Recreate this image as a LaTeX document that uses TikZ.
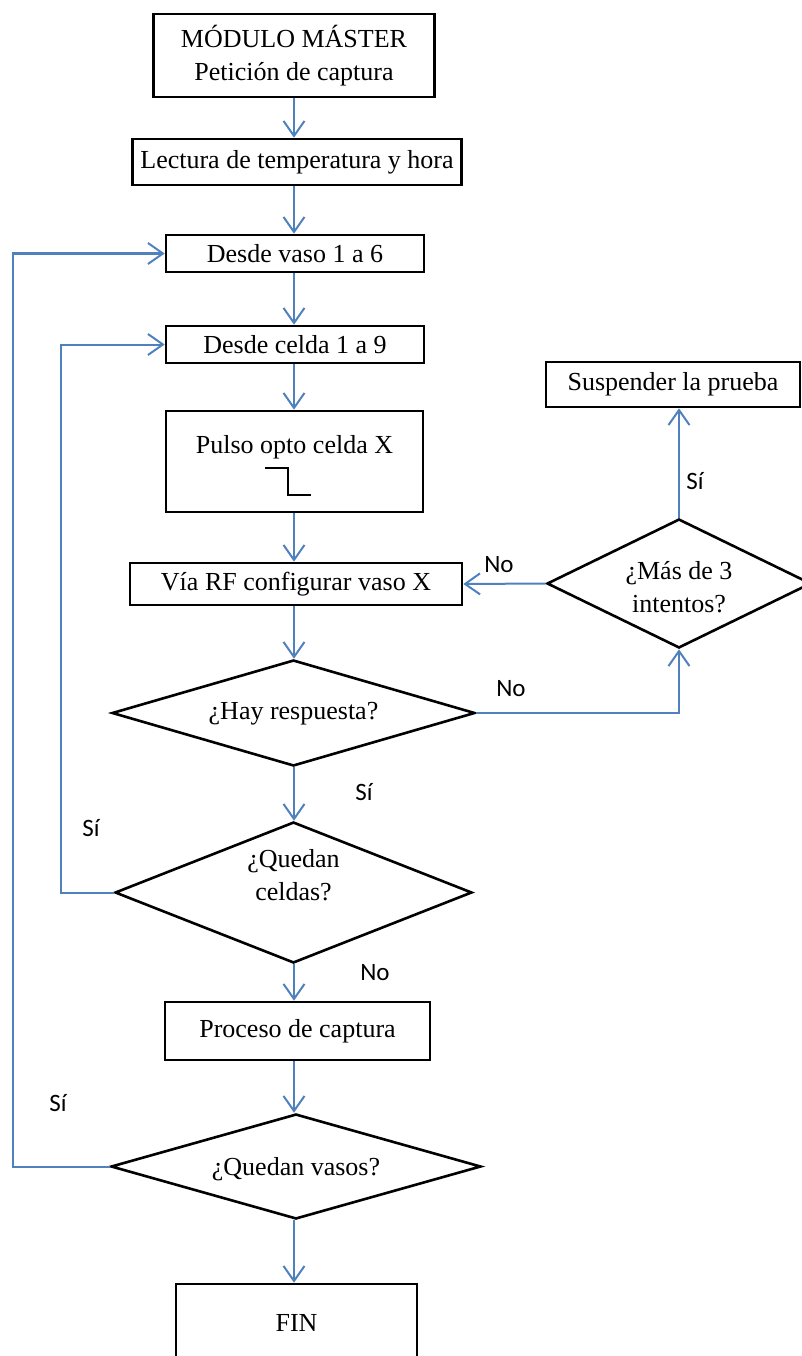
\documentclass[tikz,border=0pt]{standalone}
\usepackage{fontspec}
\setmainfont{Liberation Serif}
\newfontfamily\answerfont{Carlito}
\usetikzlibrary{arrows.meta,shapes.geometric}
\definecolor{flowblue}{HTML}{4F81BD}
\begin{document}
\begin{tikzpicture}[x=1pt,y=-1pt,
  stepbox/.style={draw=black,line width=2.6pt,inner sep=0pt,align=center,
    font=\fontsize{26}{33}\selectfont},
  decision/.style={diamond,draw=black,line width=2.6pt,inner sep=0pt},
  txt/.style={inner sep=0pt,align=center,font=\fontsize{26}{33}\selectfont},
  answer/.style={inner sep=0pt,font=\answerfont\fontsize{25}{28}\selectfont},
  flow/.style={draw=flowblue,line width=2pt,-{Straight Barb[length=15pt,width=21pt]}}]
\useasboundingbox (0,0) rectangle (801,1356);

% main column
\node[stepbox,minimum width=281,minimum height=83] (master) at (294,55.5)
  {MÓDULO MÁSTER\\Petición de captura};
\node[stepbox,minimum width=329,minimum height=46] (lectura) at (297,162)
  {Lectura de temperatura y hora};
\node[stepbox,minimum width=258,minimum height=37] (vaso) at (295,253.5)
  {Desde vaso 1 a 6};
\node[stepbox,minimum width=258,minimum height=37] (celda) at (295,344.5)
  {Desde celda 1 a 9};
\node[stepbox,minimum width=257,minimum height=101] (pulso) at (294.5,461.5) {};
\node[txt] (pulsotxt) at (294.5,447) {Pulso opto celda X};
\draw[line width=1.5pt] (265,468) -- (288,468) -- (288,495) -- (311,495);
\node[stepbox,minimum width=332,minimum height=42] (via) at (296,584)
  {Vía RF configurar vaso X};
\node[decision,minimum width=363,minimum height=106] (hay) at (293.5,713) {};
\node[txt] (haytxt) at (293.5,714) {¿Hay respuesta?};
\node[decision,minimum width=357,minimum height=141] (quedc) at (293.5,892.5) {};
\node[txt] (quedctxt) at (293.5,875) {¿Quedan\\celdas?};
\node[stepbox,minimum width=265,minimum height=58] (proceso) at (297.5,1031)
  {Proceso de captura};
\node[decision,minimum width=370,minimum height=105] (quedv) at (296,1166.5) {};
\node[txt] (quedvtxt) at (296,1169) {¿Quedan vasos?};
\node[stepbox,minimum width=241,minimum height=78] (fin) at (296.5,1323) {FIN};

% retry branch
\node[decision,minimum width=264,minimum height=129] (mas) at (679,583.5) {};
\node[txt] (mastxt) at (679,587) {¿Más de 3\\intentos?};
\node[stepbox,minimum width=254,minimum height=45] (susp) at (673,384.5)
  {Suspender la prueba};

% corner points of the loops
\coordinate (hayr) at (679,713);
\coordinate (celdal) at (61,892.5);
\coordinate (vasol) at (13,1166.5);

% straight connectors
\draw[flow] (master.south -| 294,0) -- (lectura.north -| 294,0);
\draw[flow] (lectura.south -| 294,0) -- (vaso.north -| 294,0);
\draw[flow] (vaso.south -| 294,0) -- (celda.north -| 294,0);
\draw[flow] (celda.south -| 294,0) -- (pulso.north -| 294,0);
\draw[flow] (pulso.south -| 294,0) -- (via.north -| 294,0);
\draw[flow] (via.south -| 294,0) -- (hay.north -| 294,0);
\draw[flow] (hay.south -| 294,0) -- (quedc.north -| 294,0);
\draw[flow] (quedc.south -| 294,0) -- (proceso.north -| 294,0);
\draw[flow] (proceso.south -| 294,0) -- (quedv.north -| 294,0);
\draw[flow] (quedv.south -| 294,0) -- (fin.north -| 294,0);

% retry connectors
\draw[flow] (hay.east) -- (hayr) -- (mas.south);
\draw[flow] (mas.west) -- (via.east);
\draw[flow] (mas.north) -- (mas.north |- susp.south);

% loop-back connectors
\draw[flow] (quedc.west) -- (celdal) |- (celda.west);
\draw[flow] (quedv.west) -- (vasol) |- (vaso.west);

% answers
\node[answer] (a1) at (695,481) {Sí};
\node[answer] (a2) at (499,565) {No};
\node[answer] (a3) at (511,689) {No};
\node[answer] (a4) at (364,792) {Sí};
\node[answer] (a5) at (91,828) {Sí};
\node[answer] (a6) at (375,973) {No};
\node[answer] (a7) at (58,1103) {Sí};
\end{tikzpicture}
\end{document}
